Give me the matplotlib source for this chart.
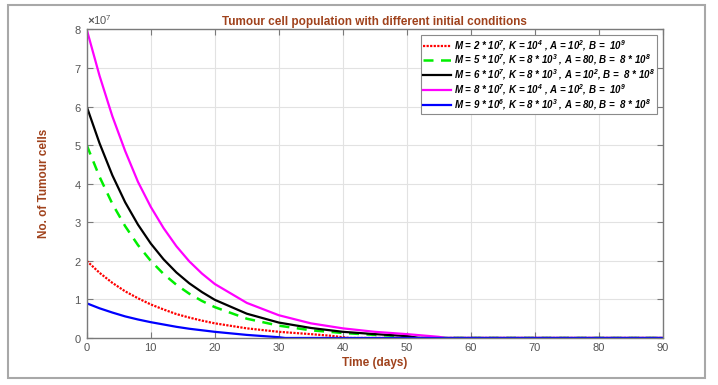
import numpy as np
import matplotlib
matplotlib.use("Agg")
import matplotlib.pyplot as plt
from matplotlib.patches import Rectangle
from matplotlib.ticker import ScalarFormatter

plt.rcParams["font.family"] = ["Liberation Sans", "DejaVu Sans"]
plt.rcParams["mathtext.fontset"] = "custom"
plt.rcParams["mathtext.rm"] = "Liberation Sans:bold:italic"
plt.rcParams["mathtext.it"] = "Liberation Sans:bold:italic"

# time points (days) and tumour cell counts (units of 1e7)
t_mag = [0, 2, 4, 6, 8, 10, 12, 14, 16, 18, 20, 25, 30, 35, 40, 45, 50, 55, 56, 90]
n_mag = [8.0, 6.8, 5.75, 4.85, 4.05, 3.4, 2.85, 2.38, 1.99, 1.67, 1.40,
         0.91, 0.59, 0.38, 0.25, 0.16, 0.10, 0.03, 0.0, 0.0]

t_blk = [0, 2, 4, 6, 8, 10, 12, 14, 16, 18, 20, 25, 30, 35, 40, 45, 50, 52, 90]
n_blk = [6.0, 5.05, 4.22, 3.52, 2.94, 2.45, 2.04, 1.70, 1.42, 1.19, 0.99,
         0.63, 0.40, 0.26, 0.16, 0.10, 0.05, 0.0, 0.0]

t_grn = [0, 2, 4, 6, 8, 10, 12, 14, 16, 18, 20, 25, 30, 35, 40, 45, 50, 52, 90]
n_grn = [5.0, 4.18, 3.48, 2.90, 2.41, 2.0, 1.66, 1.38, 1.15, 0.96, 0.80,
         0.50, 0.32, 0.20, 0.13, 0.08, 0.04, 0.0, 0.0]

t_red = [0, 2, 4, 6, 8, 10, 12, 14, 16, 18, 20, 25, 30, 35, 38, 41, 90]
n_red = [2.0, 1.69, 1.43, 1.21, 1.03, 0.87, 0.74, 0.62, 0.53, 0.45, 0.38,
         0.25, 0.16, 0.10, 0.06, 0.0, 0.0]

t_blu = [0, 2, 4, 6, 8, 10, 12, 14, 16, 18, 20, 25, 30, 31, 90]
n_blu = [0.9, 0.77, 0.66, 0.56, 0.48, 0.41, 0.35, 0.29, 0.24, 0.20, 0.16,
         0.08, 0.02, 0.0, 0.0]

labels = [
    r"M = 2 * 10$^{7}$, K = 10$^{4}$ , A = 10$^{2}$, B =  10$^{9}$",
    r"M = 5 * 10$^{7}$, K = 8 * 10$^{3}$ , A = 80, B =  8 * 10$^{8}$",
    r"M = 6 * 10$^{7}$, K = 8 * 10$^{3}$ , A = 10$^{2}$, B =  8 * 10$^{8}$",
    r"M = 8 * 10$^{7}$, K = 10$^{4}$ , A = 10$^{2}$, B =  10$^{9}$",
    r"M = 9 * 10$^{6}$, K = 8 * 10$^{3}$ , A = 80, B =  8 * 10$^{8}$",
]

brown = "#a0421c"
axcol = "#7a7a7a"

fig = plt.figure(figsize=(7.18, 3.85), dpi=100)
fig.patches.append(Rectangle((8 / 718, 1 - 378 / 385), 697 / 718, 373 / 385,
                             transform=fig.transFigure, fill=False,
                             edgecolor="#a8a8a8", linewidth=1.5))
ax = fig.add_axes([0.1208, 0.1221, 0.8026, 0.8013])

scale = 1e7
ax.plot(t_red, np.array(n_red) * scale, color="#ff0000", lw=1.6, ls=(0, (1, 0.6)), label=labels[0])
ax.plot(t_grn, np.array(n_grn) * scale, color="#00ee00", lw=1.8, ls=(0, (4, 3)), label=labels[1])
ax.plot(t_blk, np.array(n_blk) * scale, color="black", lw=1.6, label=labels[2])
ax.plot(t_mag, np.array(n_mag) * scale, color="#ff00ff", lw=1.6, label=labels[3])
ax.plot(t_blu, np.array(n_blu) * scale, color="#0000ff", lw=1.6, label=labels[4])

ax.set_xlim(0, 90)
ax.set_ylim(0, 8e7)
ax.set_xticks(np.arange(0, 91, 10))
ax.set_yticks(np.arange(0, 8.1e7, 1e7))
fmt = ScalarFormatter(useMathText=True)
fmt.set_powerlimits((0, 0))
ax.yaxis.set_major_formatter(fmt)
ax.yaxis.get_offset_text().set_fontsize(8)
ax.yaxis.get_offset_text().set_color("#555555")

ax.grid(True, color="#e2e2e2", lw=0.8)
ax.tick_params(direction="in", length=4, width=0.8, colors=axcol,
               labelcolor="#555555", labelsize=8, top=True, right=True)
for s in ax.spines.values():
    s.set_color(axcol)
    s.set_linewidth(1.0)

ax.set_title("Tumour cell population with different initial conditions",
             color=brown, fontsize=8.5, fontweight="bold", pad=3)
ax.set_xlabel("Time (days)", color=brown, fontsize=8.5, fontweight="bold", labelpad=3)
ax.set_ylabel("No. of Tumour cells", color=brown, fontsize=8.5, fontweight="bold", labelpad=17)

leg = ax.legend(loc="upper right", handlelength=2.8, handletextpad=0.3,
                labelspacing=0.0, borderpad=0.25, fancybox=False, framealpha=1,
                edgecolor="#8a8a8a", borderaxespad=0.6,
                prop={"weight": "bold", "style": "italic", "size": 7})
leg.get_frame().set_linewidth(0.8)

fig.savefig("out.png", dpi=100)
